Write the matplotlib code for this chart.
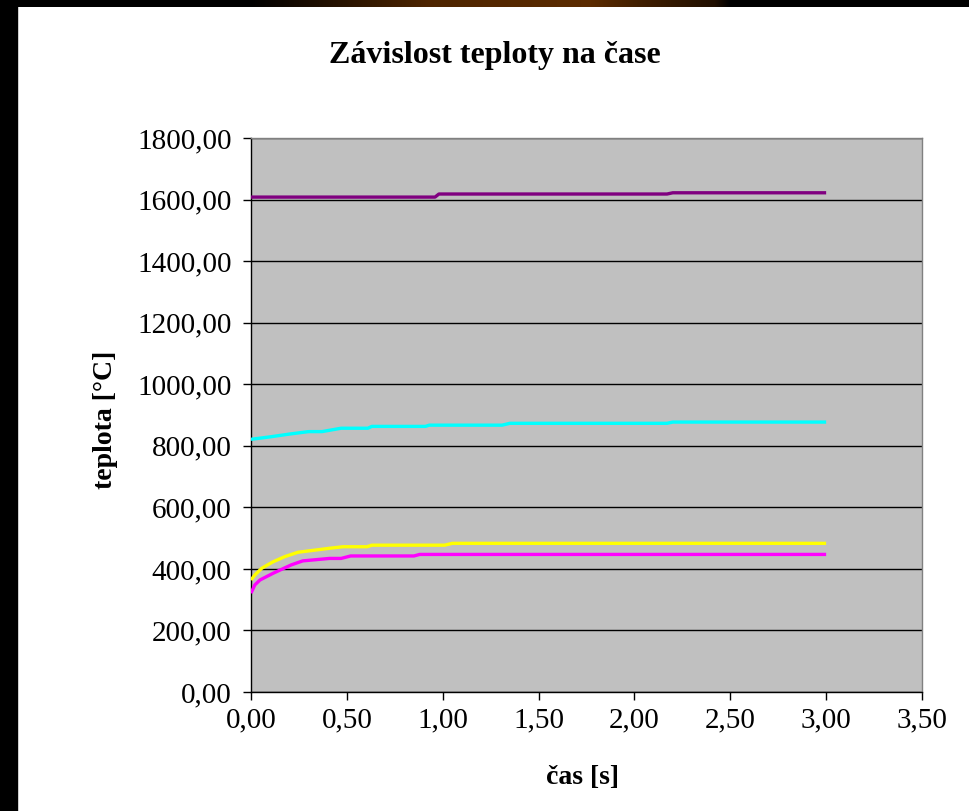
import numpy as np
import matplotlib
matplotlib.use("Agg")
import matplotlib.pyplot as plt
from matplotlib.ticker import FuncFormatter, MultipleLocator

# cas [s] a teplota [°C] pro jednotlive krivky
t_fialova = [0.0, 0.96, 0.98, 2.17, 2.20, 3.0]
T_fialova = [1608, 1608, 1618, 1618, 1622, 1622]

t_azurova = [0.0, 0.10, 0.20, 0.30, 0.37, 0.47, 0.61, 0.63, 0.91, 0.93, 1.31, 1.35, 2.17, 2.20, 3.0]
T_azurova = [821, 829, 838, 846, 846, 857, 857, 863, 863, 867, 867, 873, 873, 877, 877]

t_zluta = [0.0, 0.02, 0.056, 0.115, 0.177, 0.245, 0.41, 0.48, 0.605, 0.63, 1.01, 1.05, 3.0]
T_zluta = [364, 380, 402, 423, 440, 454, 467, 472, 472, 477, 477, 483, 483]

t_ruzova = [0.0, 0.02, 0.047, 0.116, 0.21, 0.27, 0.41, 0.47, 0.52, 0.85, 0.88, 3.0]
T_ruzova = [321, 348, 364, 386, 413, 426, 434, 434, 442, 442, 447, 447]

serie = [
    (t_fialova, T_fialova, "#800080"),
    (t_azurova, T_azurova, "#00FFFF"),
    (t_zluta, T_zluta, "#FFFF00"),
    (t_ruzova, T_ruzova, "#FF00FF"),
]

plt.rcParams["font.family"] = ["Liberation Serif", "DejaVu Serif"]

W, H = 969, 811
fig = plt.figure(figsize=(W / 100, H / 100), dpi=100)
fig.patch.set_facecolor("white")

# cerny okraj slajdu vlevo a nahore
fig.patches.append(plt.Rectangle((0, 0), 17 / W, 1, transform=fig.transFigure,
                                 color="black", zorder=0))
bar = fig.add_axes([0, 1 - 7 / H, 1, 7 / H])
xs = np.linspace(0, W, W)
grad = np.interp(xs, [0, 250, 430, 590, 640, 715, 730, W],
                 [0, 0, 0.85, 1.0, 0.7, 0.35, 0, 0])
rgb = np.stack([grad * 0.36, grad * 0.17, grad * 0.0], axis=-1)[None, :, :]
bar.imshow(rgb, aspect="auto", extent=[0, W, 0, 1])
bar.axis("off")

ax = fig.add_axes([251 / W, 1 - 692 / H, 671 / W, 554 / H])
ax.set_facecolor("#C0C0C0")

for t, T, c in serie:
    ax.plot(t, T, color=c, lw=2.4, solid_capstyle="butt", zorder=3)

ax.set_xlim(0, 3.5)
ax.set_ylim(0, 1800)
ax.xaxis.set_major_locator(MultipleLocator(0.5))
ax.yaxis.set_major_locator(MultipleLocator(200))
carka = FuncFormatter(lambda v, p: ("%.2f" % v).replace(".", ","))
ax.xaxis.set_major_formatter(carka)
ax.yaxis.set_major_formatter(carka)

ax.yaxis.grid(True, color="black", lw=1)
ax.set_axisbelow(True)
for s in ["top", "right"]:
    ax.spines[s].set_color("#808080")
for s in ["left", "bottom"]:
    ax.spines[s].set_color("black")
for s in ax.spines.values():
    s.set_linewidth(1)

ax.tick_params(direction="out", length=6, width=1, color="black",
               labelsize=21, pad=5)
ax.tick_params(axis="y", pad=8)

fig.text(495 / W, 1 - 55 / H, "Závislost teploty na čase", fontsize=23,
         fontweight="bold", ha="center", va="center")
fig.text(583 / W, 1 - 778 / H, "čas [s]", fontsize=20,
         fontweight="bold", ha="center", va="center")
fig.text(105 / W, 1 - 420 / H, "teplota [°C]", fontsize=20, rotation=90,
         fontweight="bold", ha="center", va="center")

fig.savefig("out.png", dpi=100)
